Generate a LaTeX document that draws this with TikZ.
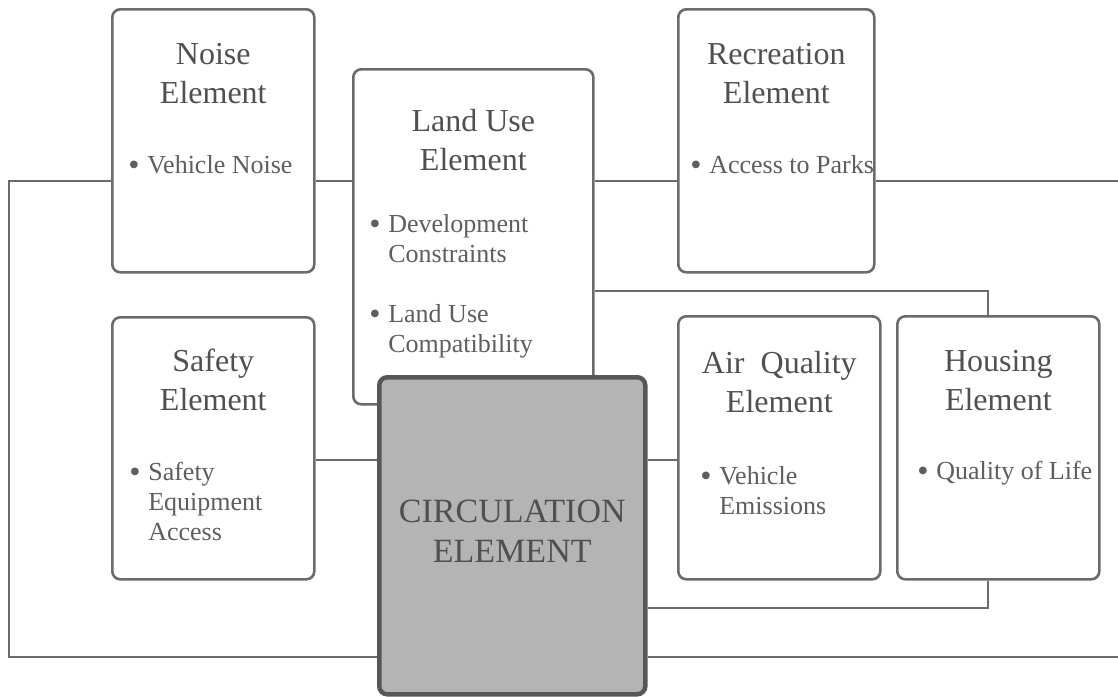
\documentclass[tikz,border=0pt]{standalone}
\usepackage{fontspec}
\setmainfont{Liberation Serif}
\definecolor{ink}{HTML}{5E5E5E}
\definecolor{head}{HTML}{505050}
\definecolor{wire}{HTML}{6B6B6B}
\definecolor{hubfill}{HTML}{B4B4B4}
\definecolor{hubedge}{HTML}{575757}
\newcommand{\ttl}{\fontsize{32}{39}\selectfont\color{head}}
\newcommand{\bdy}{\fontsize{26}{30}\selectfont\color{ink}}
\newcommand{\bul}[1]{\par\hangindent=19pt\hangafter=1\noindent\makebox[19pt][l]{\raisebox{-2.5pt}{\fontsize{32}{30}\selectfont\textbullet}}#1}

\begin{document}
\begin{tikzpicture}
    [
    x=1pt, y=-1pt,
    link/.style={
        draw=wire,
        line width=2.6pt
    },
    card/.style={
        draw=wire,
        line width=2.6pt,
        rounded corners=8pt,
        fill=white,
        text=ink,
        inner sep=0pt,
        anchor=north west
    },
    hub/.style={
        card,
        draw=hubedge,
        line width=4.5pt,
        fill=hubfill
    },
    ]
    \useasboundingbox (0,0) rectangle (1118,696);

    \node[card] (noise) at (111,8) {\parbox[t][263pt][t]{202pt}{\centering\ttl\rule{0pt}{55pt}Noise\\Element\par
        \bdy\raggedright\leftskip=16pt\vspace{40pt}\bul{Vehicle Noise}}};
    \node[card] (land) at (352,68) {\parbox[t][335pt][t]{240pt}{\centering\ttl\rule{0pt}{62pt}Land Use\\Element\par
        \bdy\raggedright\leftskip=16pt\vspace{32pt}\bul{Development\newline Constraints}\par
        \vspace{30pt}\bul{Land Use\newline Compatibility}}};
    \node[card] (recr) at (677,8) {\parbox[t][263pt][t]{196pt}{\centering\ttl\rule{0pt}{55pt}Recreation\\Element\par
        \bdy\raggedright\leftskip=12pt\vspace{40pt}\bul{Access to Parks}}};
    \node[card] (safe) at (111,316) {\parbox[t][262pt][t]{202pt}{\centering\ttl\rule{0pt}{54pt}Safety\\Element\par
        \bdy\raggedright\leftskip=17pt\vspace{40pt}\bul{Safety\newline Equipment\newline Access}}};
    \node[card] (air) at (677,315) {\parbox[t][263pt][t]{202pt}{\centering\ttl\rule{0pt}{57pt}Air~ Quality\\Element\par
        \bdy\raggedright\leftskip=22pt\vspace{42pt}\bul{Vehicle\newline Emissions}}};
    \node[card] (house) at (896,315) {\parbox[t][263pt][t]{202pt}{\centering\ttl\rule{0pt}{55pt}Housing\\Element\par
        \bdy\raggedright\leftskip=20pt\vspace{39pt}\bul{Quality of Life}}};
    \node[hub] (circ) at (377,375) {\parbox[t][317pt][t]{266pt}{\centering\fontsize{34}{40}\selectfont\color{head}\rule{0pt}{145pt}CIRCULATION\\ELEMENT}};

    % rails of the loop
    \coordinate (rimT) at (1118,181);
    \coordinate (rimB) at (1118,657);
    \coordinate (loopL) at (9,181);
    \coordinate (tieM) at (0,460);
    \coordinate (hsT) at (988,291);
    \coordinate (hsB) at (988,608);

    \draw[link] (noise.west |- rimT) -- (loopL) |- (circ.west |- rimB);
    \draw[link] (noise.east |- rimT) -- (land.west |- rimT);
    \draw[link] (land.east |- rimT) -- (recr.west |- rimT);
    \draw[link] (recr.east |- rimT) -- (rimT);
    \draw[link] (circ.east |- rimB) -- (rimB);
    \draw[link] (safe.east |- tieM) -- (circ.west |- tieM);
    \draw[link] (circ.east |- tieM) -- (air.west |- tieM);
    \draw[link] (land.east |- hsT) -| (hsT |- house.north);
    \draw[link] (hsB |- house.south) |- (circ.east |- hsB);

\end{tikzpicture}
\end{document}
